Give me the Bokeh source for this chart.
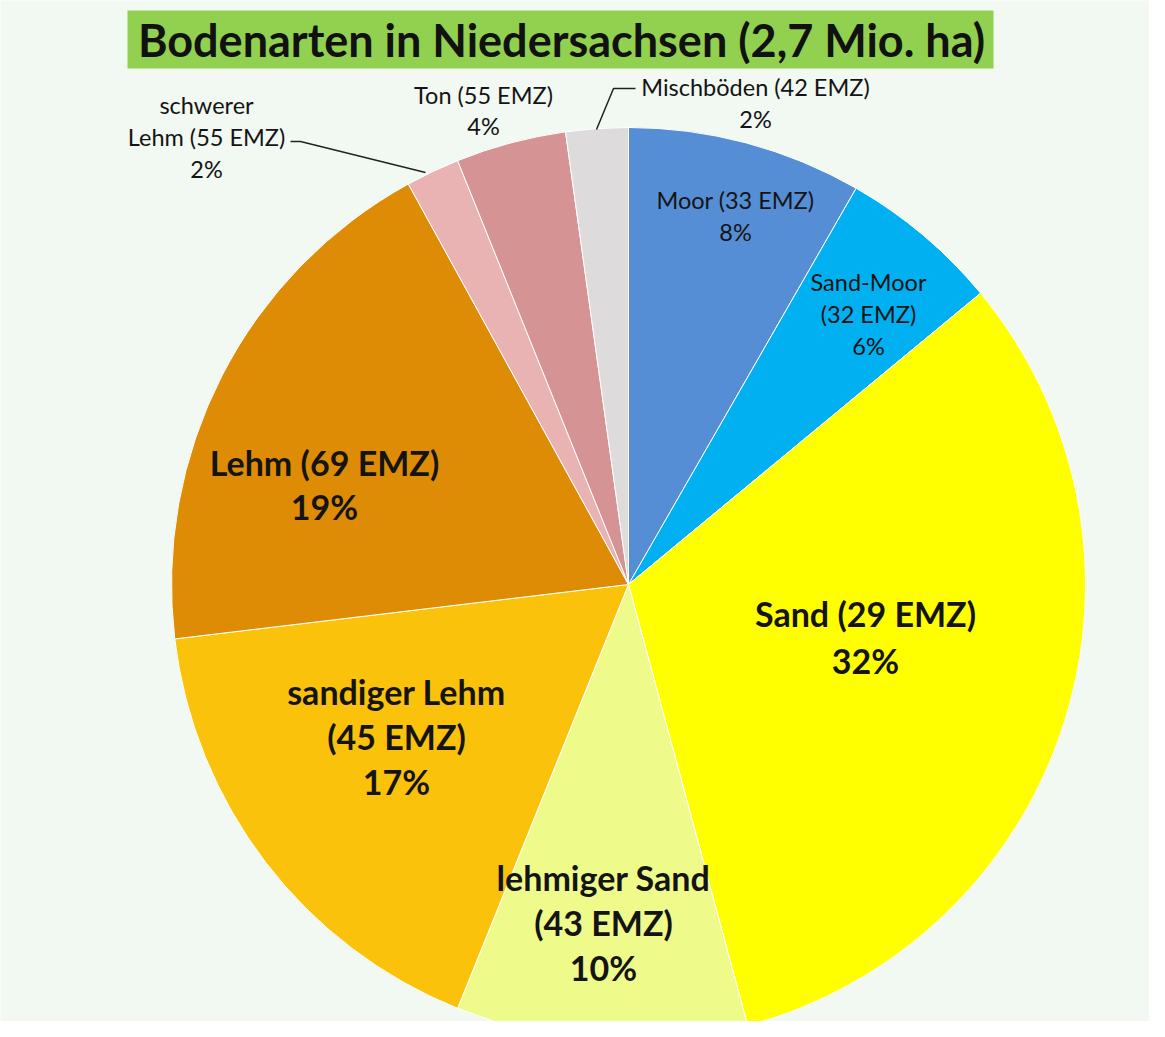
import math
from bokeh.plotting import figure
from bokeh.models import Range1d, ColumnDataSource
from bokeh.core.properties import value
from bokeh.embed import file_html
from bokeh.resources import INLINE

# ---- data (clockwise from 12 o'clock) ----
categories = ["Moor", "Sand-Moor", "Sand", "lehmiger Sand", "sandiger Lehm",
              "Lehm", "schwerer Lehm", "Ton", "Mischböden"]
emz = [33, 32, 29, 43, 45, 69, 55, 55, 42]
shares = [8.3, 5.7, 31.8, 10.3, 17.0, 18.9, 1.9, 3.9, 2.2]   # % of area (slice size)
pct_labels = ["8%", "6%", "32%", "10%", "17%", "19%", "2%", "4%", "2%"]
title = "Bodenarten in Niedersachsen (2,7 Mio. ha)"

# ---- style ----
colors = ["#558ed5", "#00b0f0", "#ffff00", "#eefa8a", "#fac20a",
          "#de8c06", "#e9b3b4", "#d69394", "#dddbdb"]
FONT = "Lato"
W, H = 1149, 1021
CX, CY, R = 628, -584, 457

p = figure(width=W, height=H, output_backend="svg", toolbar_location=None,
           x_range=Range1d(0, W), y_range=Range1d(-H, 0),
           min_border=0, background_fill_color="#f2f8f2",
           border_fill_color="#f2f8f2")
p.axis.visible = False
p.grid.visible = False
p.outline_line_color = None

# wedges
total = sum(shares)
starts, ends = [], []
cum = 0.0
for s in shares:
    a0 = math.pi / 2 - 2 * math.pi * cum / total
    cum += s
    a1 = math.pi / 2 - 2 * math.pi * cum / total
    starts.append(a1)
    ends.append(a0)
src = ColumnDataSource(dict(start=starts, end=ends, color=colors, cat=categories))
p.wedge(x=CX, y=CY, radius=R, start_angle="start", end_angle="end",
        direction="anticlock", fill_color="color", line_color="white",
        line_width=1, source=src)

# title box
p.rect(x=560, y=-39, width=866, height=58, fill_color="#92d050", line_color=None)
p.text(x=[561], y=[-39], text=[title], text_font=value(FONT), text_font_style="bold",
       text_font_size="45px", text_align="center", text_baseline="middle",
       text_color="#111111")

def lab(lines, x, y0, gap, size, bold):
    ys = [-(y0 + i * gap) for i in range(len(lines))]
    p.text(x=[x] * len(lines), y=ys, text=lines, text_font=value(FONT),
           text_font_style="bold" if bold else "normal", text_font_size=size,
           text_align="center", text_baseline="middle", text_color="#141414")

def L(i):
    return f"{categories[i]} ({emz[i]} EMZ)"

SM, BG = "23.5px", "34px"
lab([L(0), pct_labels[0]], 735, 199, 32, SM, False)
lab([categories[1], f"({emz[1]} EMZ)", pct_labels[1]], 868, 281, 32, SM, False)
lab([L(2), pct_labels[2]], 865, 613, 47, BG, True)
lab([categories[3], f"({emz[3]} EMZ)", pct_labels[3]], 603, 877, 45, BG, True)
lab([categories[4], f"({emz[4]} EMZ)", pct_labels[4]], 396, 691, 45, BG, True)
lab([L(5), pct_labels[5]], 324, 462, 44, BG, True)
lab(["schwerer", f"Lehm ({emz[6]} EMZ)", pct_labels[6]], 206, 104, 32, SM, False)
lab([L(7), pct_labels[7]], 483, 94, 31, SM, False)
lab([L(8), pct_labels[8]], 755, 86, 32, SM, False)

# leader lines
p.line(x=[290, 300, 425], y=[-141, -141, -172], line_color="#222222", line_width=1.5)
p.line(x=[596, 613, 635], y=[-129, -88, -88], line_color="#222222", line_width=1.5)

open("out.html", "w").write(file_html(p, INLINE))
